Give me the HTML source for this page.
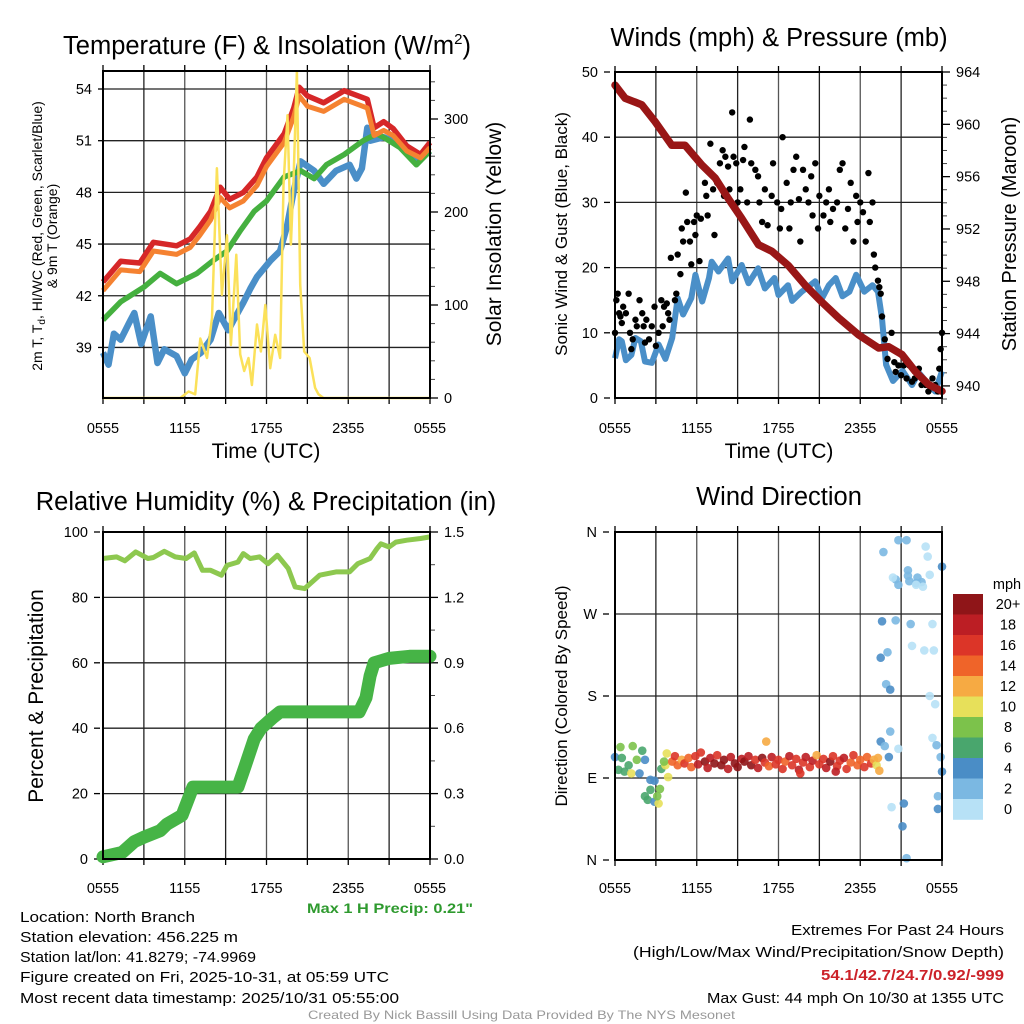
<!DOCTYPE html>
<html><head><meta charset="utf-8"><title>Mesonet station meteogram</title>
<style>
html,body{margin:0;padding:0;background:#fff;}
svg{display:block;font-family:"Liberation Sans",sans-serif;}
</style></head>
<body>
<svg id="chart" width="1024" height="1024" viewBox="0 0 1024 1024" xmlns="http://www.w3.org/2000/svg">
<rect x="0" y="0" width="1024" height="1024" fill="#fff"/>
<!-- titles -->
<text x="267" y="54" font-size="25.5" text-anchor="middle">Temperature (F) &amp; Insolation (W/m<tspan font-size="15" dy="-10">2</tspan><tspan dy="10">)</tspan></text>
<text x="779" y="46" font-size="25.5" text-anchor="middle">Winds (mph) &amp; Pressure (mb)</text>
<text x="266" y="510" font-size="25.5" text-anchor="middle">Relative Humidity (%) &amp; Precipitation (in)</text>
<text x="779" y="505" font-size="25.5" text-anchor="middle">Wind Direction</text>
<!-- axis titles -->
<text x="266" y="458" font-size="21" text-anchor="middle">Time (UTC)</text>
<text x="779" y="458" font-size="21" text-anchor="middle">Time (UTC)</text>
<text transform="translate(42,236) rotate(-90)" font-size="14" text-anchor="middle">2m T, T<tspan font-size="10" dy="3">d</tspan><tspan dy="-3">, HI/WC (Red, Green, Scarlet/Blue)</tspan></text>
<text transform="translate(57,236) rotate(-90)" font-size="14" text-anchor="middle">&amp; 9m T (Orange)</text>
<text transform="translate(501,234) rotate(-90)" font-size="21" text-anchor="middle">Solar Insolation (Yellow)</text>
<text transform="translate(567,234) rotate(-90)" font-size="17" text-anchor="middle">Sonic Wind &amp; Gust (Blue, Black)</text>
<text transform="translate(1016,234) rotate(-90)" font-size="20" text-anchor="middle">Station Pressure (Maroon)</text>
<text transform="translate(43,696) rotate(-90)" font-size="21" text-anchor="middle">Percent &amp; Precipitation</text>
<text transform="translate(567,696) rotate(-90)" font-size="17" text-anchor="middle">Direction (Colored By Speed)</text>
<!-- footer texts -->
<text x="307" y="913" font-size="14" font-weight="bold" fill="#2e9a2e" textLength="166" lengthAdjust="spacingAndGlyphs">Max 1 H Precip: 0.21"</text>
<g font-size="15">
<text x="20" y="922" textLength="175" lengthAdjust="spacingAndGlyphs">Location: North Branch</text>
<text x="20" y="942" textLength="218" lengthAdjust="spacingAndGlyphs">Station elevation: 456.225 m</text>
<text x="20" y="962" textLength="236" lengthAdjust="spacingAndGlyphs">Station lat/lon: 41.8279; -74.9969</text>
<text x="20" y="982" textLength="369" lengthAdjust="spacingAndGlyphs">Figure created on Fri, 2025-10-31, at 05:59 UTC</text>
<text x="20" y="1003" textLength="379" lengthAdjust="spacingAndGlyphs">Most recent data timestamp: 2025/10/31 05:55:00</text>
</g>
<g font-size="15">
<text x="791" y="935" textLength="213" lengthAdjust="spacingAndGlyphs">Extremes For Past 24 Hours</text>
<text x="633" y="957" textLength="371" lengthAdjust="spacingAndGlyphs">(High/Low/Max Wind/Precipitation/Snow Depth)</text>
<text x="821" y="980" font-weight="bold" fill="#cc2229" textLength="183" lengthAdjust="spacingAndGlyphs">54.1/42.7/24.7/0.92/-999</text>
<text x="707" y="1003" textLength="297" lengthAdjust="spacingAndGlyphs">Max Gust: 44 mph On 10/30 at 1355 UTC</text>
</g>
<text x="308" y="1019" font-size="12" fill="#999" textLength="427" lengthAdjust="spacingAndGlyphs">Created By Nick Bassill Using Data Provided By The NYS Mesonet</text>
</svg>
<script>
// ---------- data ----------
const timeTicks = ["0555","1155","1755","2355","0555"];
const tempTicks = [39,42,45,48,51,54];
const solarTicks = [0,100,200,300];
const windTicks = [0,10,20,30,40,50];
const presTicks = [940,944,948,952,956,960,964];
const rhTicks = [0,20,40,60,80,100];
const precipTicks = ["0.0","0.3","0.6","0.9","1.2","1.5"];
const dirTicks = ["N","E","S","W","N"];

const tempHours = [0,1.3,2.7,3.7,5.4,6.4,7.1,7.9,8.6,9.3,10.3,11.3,12,13.3,14,14.4,15,16.2,17.7,19.4,19.9,20.6,21.3,22.3,23.3,24];
const tempRed   = [42.8,44.0,43.9,45.1,44.9,45.3,46.0,46.9,48.3,47.6,48.0,48.9,50.0,51.4,52.9,54.1,53.6,53.2,53.9,53.4,51.75,52.1,51.7,50.7,50.2,50.9];
const tempOrange= [42.3,43.5,43.4,44.6,44.4,44.8,45.5,46.4,47.7,47.1,47.5,48.4,49.5,50.9,52.4,53.6,53.0,52.7,53.4,52.9,51.3,51.6,51.3,50.4,50.0,50.6];
const greenHours = [0,1.3,3.0,4.2,5.4,6.9,8.1,9.1,10.1,11.1,12,13.3,14.5,15.5,16.4,17.7,19.1,20.1,20.8,21.8,23.0,24];
const tempGreen  = [40.6,41.65,42.5,43.3,42.7,43.3,44.05,44.6,45.8,46.9,47.5,48.9,49.25,48.8,49.6,50.2,51.0,51.4,51.1,50.6,49.6,50.4];
const blueHours = [0,0.4,0.8,1.3,1.9,2.3,2.8,3.5,4.0,4.5,5.4,6.0,6.5,7.2,7.9,8.5,9.2,9.6,10.3,10.8,11.3,12.3,13.0,13.5,14.0,14.5,15.5,16.2,17.1,18.1,18.6,19.0,19.4,19.6,20.6,21.8,23.0,24];
const tempBlue  = [38.7,38.0,39.8,39.45,40.4,41.0,39.2,40.8,38.1,38.9,38.5,37.5,38.3,38.7,39.45,41.0,40.0,40.6,41.6,42.4,43.1,44.05,44.6,46.0,48.1,49.8,49.25,48.5,49.25,49.6,48.8,49.4,51.75,51.0,51.2,50.8,49.8,50.4];
const solarHours = [0,5.67,6.28,6.77,7.14,7.63,8.0,8.36,8.73,9.1,9.39,9.78,10.07,10.36,10.68,10.93,11.3,11.59,11.91,12.27,12.64,13.0,13.25,13.54,13.79,13.98,14.23,14.47,14.77,15.16,15.57,15.82,16.18,24];
const solarVals  = [0,0,7,4,64,43,86,247,111,175,57,154,47,29,43,14,79,50,100,32,68,43,229,304,165,233,351,122,50,43,11,4,0,0];

const presHours = [0,0.74,1.96,2.94,4.16,5.14,6.37,7.35,8.33,9.31,10.53,11.51,12.73,13.96,15.19,16.41,17.88,19.35,20.08,21.06,22.04,23.02,24];
const presVals  = [963.0,962.0,961.5,960.2,958.4,958.4,956.9,955.9,954.3,952.8,950.8,950.3,949.2,947.7,946.4,945.2,943.9,942.9,943.0,942.4,941.1,940.1,939.6];
const windHours = [0,0.3,0.5,0.8,1.2,1.5,1.9,2.2,2.7,3.2,3.7,4.2,4.6,5.0,5.6,5.9,6.4,6.9,7.1,7.6,8.3,8.6,9.3,9.8,10.5,11.0,11.7,12.0,12.7,13.0,13.7,14.7,15.2,15.7,16.2,16.7,17.2,17.7,18.3,18.9,19.3,19.6,19.9,20.4,21.1,21.8,22.3,22.8,23.5,24];
const windVals  = [6.1,9.0,8.7,5.8,6.6,9.2,8.7,5.6,5.4,8.2,6.0,9.2,15.3,12.8,15.3,18.9,14.8,18.4,20.9,19.4,21.4,17.9,20.4,17.6,19.9,16.8,18.4,15.8,17.3,14.9,16.3,17.9,15.3,17.3,18.4,15.6,16.3,18.9,16.3,17.3,16.3,12.2,5.1,2.6,4.2,2.0,3.9,2.6,1.0,4.1];
const gustHours = [0,0.1,0.2,0.3,0.4,0.5,0.6,0.8,1.0,1.1,1.3,1.5,1.6,1.8,2.0,2.1,2.3,2.5,2.7,2.9,3.0,3.2,3.4,3.6,3.8,3.9,3.5,2.2,1.2,4.0,4.1,4.4,4.5,4.6,4.8,4.9,5.0,5.2,5.3,5.5,5.6,5.8,5.9,6.0,6.2,6.3,6.6,6.7,6.8,7.0,7.2,7.3,7.5,7.7,7.9,8.0,8.1,8.3,8.4,8.6,8.7,8.9,9.0,9.2,9.4,9.5,9.7,9.9,10.0,10.3,10.5,10.6,10.8,11.0,11.2,11.5,11.6,11.9,12.1,12.2,12.3,12.6,12.8,12.9,13.1,13.3,13.5,13.6,13.8,14.0,14.2,14.4,14.5,14.7,14.9,15.0,15.3,15.5,15.7,15.8,16.0,16.3,16.5,16.7,16.9,17.1,17.3,17.5,17.7,17.8,18.0,18.2,18.4,18.6,18.7,18.9,19.0,19.1,19.3,19.5,19.4,19.6,19.8,20.0,20.3,20.5,20.6,20.8,21.0,21.2,21.4,21.6,21.8,22.0,22.3,22.5,22.8,23.0,23.3,23.5,23.7,23.8,23.9,24.0];
const gustVals  = [10,15,16,13,12.5,11.5,14,13,16,10,9,12,11,15,13,11,12,9,11,14,8,10,15,14,14.5,13,11,8.5,7.5,12,21.5,15,16,22,19,26,24,31.5,27,24,20.5,27,25,28,21,27.5,33,31,28,39,32,25,33,36,38,31,37,35.5,32,43.8,37,36,30,32,36.5,38.5,30,42.7,36,35,34,30,27,32,26.5,31,36,30,26,29,40,33,26,30,35,37,30.5,24,35,32,30,34,28,36,26,31,28,30,32,27,29,30,35,36,26,29,33,24,31,27,30,28.5,24,34.5,27,30,22,20,18,16,17,12.5,9,6,10,5.5,4,5,3.5,5,3,5,2.5,3,4.5,2,2,1,3,2,1,4.5,7.5,10];

const rhHours = [0,1.0,1.6,2.4,3.3,3.7,4.5,5.3,6.1,6.7,7.3,7.9,8.7,9.1,9.9,10.3,10.8,11.5,12.1,12.8,13.6,14.1,14.8,15.9,17.1,18.1,18.7,19.6,20.1,20.4,21.0,21.5,22.3,23.3,24];
const rhVals  = [91.9,92.4,91.2,93.9,91.9,92.2,94.1,92.4,91.9,93.6,88.3,88.3,86.8,89.8,90.8,93.4,91.9,92.4,90.3,92.9,88.8,83.2,82.7,86.8,87.8,87.8,90.3,91.9,94.9,96.4,95.4,96.9,97.5,98.0,98.5];
const precipHours = [0,1.4,2.3,3.0,4.2,4.7,5.8,6.6,9.9,10.4,11.1,11.6,12.5,13.0,18.8,19.3,19.6,19.9,21.0,22.5,24];
const precipVals  = [0.01,0.03,0.08,0.10,0.13,0.16,0.20,0.33,0.33,0.42,0.55,0.60,0.65,0.675,0.675,0.74,0.84,0.90,0.92,0.93,0.93];

const dirHours = [0,0.4,1.3,2.0,0.5,0.25,0.7,1.2,1.6,2.2,1.0,1.8,2.6,2.9,2.6,3.3,2.2,2.4,2.9,3.2,3.1,3.4,3.7,3.9,3.8,3.6,
 4.2,4.4,4.6,4.9,5.1,5.4,5.6,5.9,6.1,6.3,6.6,6.8,7.0,7.3,7.5,7.8,8.0,8.3,8.5,8.8,9.0,9.3,9.5,9.8,10.0,10.3,10.5,10.8,11.0,11.3,11.5,11.8,12.0,12.3,12.5,12.8,13.0,13.3,13.5,13.8,14.0,14.3,14.5,14.8,15.0,15.3,15.5,15.8,16.0,16.3,16.5,16.8,17.0,17.3,17.5,17.8,18.0,18.3,18.5,18.8,19.0,19.2,19.3,19.4,11.1,16.2,13.6,
 19.7,20.8,21.4,22.8,22.95,24,21.5,23.1,21.5,22.2,22.5,22.1,22.6,20.6,20.8,21.6,22.1,20.4,19.6,20.6,21.7,23.3,21.8,22.7,23.4,19.5,20.0,19.9,20.2,23.1,23.5,20.2,19.5,19.8,20.8,20.1,23.3,23.6,23.9,24,23.7,23.7,21.2,20.3,21.1,21.4];
const dirVals = [113,124,125,120,112,99,97,95,110,110,104,95,88,87,77,78,70,66,64,62,70,100,104,91,117,108,
 108,114,104,110,106,112,102,114,105,118,108,101,112,106,115,104,110,100,113,106,102,111,108,114,104,110,101,112,107,103,113,105,110,100,108,114,104,111,99,107,113,102,109,115,105,111,101,108,114,103,109,112,100,107,115,104,110,102,113,106,110,104,112,98,130,97,95,
 338,351,351,344,333,322,318,313,312,310,305,304,300,308,302,306,302,310,262,263,259,259,235,230,230,222,228,193,187,180,171,141,130,125,122,113,134,126,113,97,70,56,62,58,37,2];
const dirSpeeds = [4,8,8,6,6,6,6,10,8,4,6,4,4,4,6,8,6,6,4,10,8,6,10,10,10,8,
 14,16,15,13,16,15,14,17,18,16,20,19,18,20,17,21,20,19,18,21,20,19,21,18,20,17,19,20,16,15,18,17,16,17,14,18,17,16,18,17,18,16,19,13,17,16,18,20,17,16,17,18,16,14,17,15,14,16,15,17,12,11,13,12,12,18,16,
 2,2,2,0,0,4,3,0,2,2,2,2,0,2,2,2,0,0,4,2,2,0,0,0,0,4,2,2,4,0,0,2,4,2,0,4,0,2,2,4,2,4,4,0,4,2];
const speedLabels = ["20+","18","16","14","12","10","8","6","4","2","0"];
const speedColors = ["#b7e1f6","#7bb8e2","#4a8dc6","#49a66d","#7cc24b","#e7e05a","#f6aa43","#ef6429","#dc3528","#bc1e24","#8f1518"];

// ---------- helpers ----------
const NS = "http://www.w3.org/2000/svg";
const svg = document.getElementById("chart");
function mk(tag, attrs, parent){
  const e = document.createElementNS(NS, tag);
  for (const k in attrs) e.setAttribute(k, attrs[k]);
  (parent || svg).appendChild(e);
  return e;
}
function pathFrom(xs, ys, fx, fy){
  let d = "";
  for (let i=0;i<xs.length;i++) d += (i?"L":"M") + fx(xs[i]).toFixed(1) + "," + fy(ys[i]).toFixed(1);
  return d;
}

// axis scales
const X1 = t => 103 + t*327/24;
const X2 = t => 615 + t*327/24;
const yTemp = v => 89 + (54 - v)*17.23;
const ySol = w => 398 - w*0.93;
const yWind = v => 398 - v*6.52;
const yPres = p => 72 + (964 - p)*13.08;
const yRH = v => 859 - v*3.27;
const yPr = p => 859 - p/1.5*327;
const yDir = d => 860 - d*328/360;

function frame(x0,y0,x1,y1,name,xLblY){
  const g = mk("g",{});
  
  
  for (let i=1;i<8;i++){
    const x = x0 + i*(x1-x0)/8;
    const l = mk("line",{x1:x,y1:y0,x2:x,y2:y1,stroke:(i%2?"#222":"#555"),"stroke-width":1.3},g);
    
    
  }
  for (let i=0;i<=8;i++){
    const x = x0 + i*(x1-x0)/8;
    const tk = mk("line",{x1:x,y1:y1,x2:x,y2:y1+6,stroke:"#000","stroke-width":1.3},g);
    
    
    const tt = mk("line",{x1:x,y1:y0-6,x2:x,y2:y0,stroke:"#000","stroke-width":1.3},g);
    
    
  }
  timeTicks.forEach((s,i)=>{
    const t = mk("text",{x:x0+i*(x1-x0)/4,y:xLblY,"font-size":14.5,"text-anchor":"middle"},g);
    t.textContent = s;
    
    
  });
  return g;
}
function hgrid(g,x0,x1,y){
  const l = mk("line",{x1:x0,y1:y,x2:x1,y2:y,stroke:"#222","stroke-width":1.3},g);
  
  
}
function border(x0,y0,x1,y1){
  const r = mk("rect",{x:x0,y:y0,width:x1-x0,height:y1-y0,fill:"none",stroke:"#000","stroke-width":2});
  
  
}
function leftLabel(g,x,y,txt){
  const t = mk("text",{x:x,y:y+5,"font-size":14.5,"text-anchor":"end"},g);
  t.textContent = txt;
  
  
  const tk = mk("line",{x1:x+6,y1:y,x2:x+12,y2:y,stroke:"#000","stroke-width":1.3},g);
  
  
}
function rightLabel(g,xr,y,txt){
  const t = mk("text",{x:xr+14,y:y+5,"font-size":14.5},g);
  t.textContent = txt;
  
  
  const tk = mk("line",{x1:xr,y1:y,x2:xr+8,y2:y,stroke:"#000","stroke-width":1.3},g);
  
  
}
function minor(g,xr,y){
  const tk = mk("line",{x1:xr,y1:y,x2:xr+5,y2:y,stroke:"#444","stroke-width":1},g);
  
  
}

// ---------- Panel 1: temperature ----------
const g1 = frame(103,71,430,398,"temperature-panel",433);
tempTicks.forEach(v=>{ hgrid(g1,103,430,yTemp(v)); leftLabel(g1,92,yTemp(v),String(v)); });
solarTicks.forEach(w=>rightLabel(g1,430,ySol(w),String(w)));
for (let w=20; w<350; w+=20) if (w%100) minor(g1,430,ySol(w));
const pBlue = mk("path",{d:pathFrom(blueHours,tempBlue,X1,yTemp),fill:"none",stroke:"#4a8fc8","stroke-width":6.5,"stroke-linejoin":"round"});


const pGreen = mk("path",{d:pathFrom(greenHours,tempGreen,X1,yTemp),fill:"none",stroke:"#45b03f","stroke-width":5.5,"stroke-linejoin":"round"});


const pRed = mk("path",{d:pathFrom(tempHours,tempRed,X1,yTemp),fill:"none",stroke:"#d62728","stroke-width":5.5,"stroke-linejoin":"round"});


const pOr = mk("path",{d:pathFrom(tempHours,tempOrange,X1,yTemp),fill:"none",stroke:"#f58231","stroke-width":5,"stroke-linejoin":"round"});


const pSol = mk("path",{d:pathFrom(solarHours,solarVals,X1,ySol),fill:"none",stroke:"#fbe15a","stroke-width":2.5,"stroke-linejoin":"round"});


border(103,71,430,398);

// ---------- Panel 2: winds ----------
const g2 = frame(615,72,942,398,"winds-panel",433);
windTicks.forEach(v=>{ hgrid(g2,615,942,yWind(v)); leftLabel(g2,598,yWind(v),String(v)); });
presTicks.forEach(p=>rightLabel(g2,942,yPres(p),String(p)));
for (let p=939; p<964; p++) if (p%4) minor(g2,942,yPres(p));
const pW = mk("path",{d:pathFrom(windHours,windVals,X2,yWind),fill:"none",stroke:"#4a8fc8","stroke-width":6,"stroke-linejoin":"round"});


const gG = mk("g",{});


gustHours.forEach((h,i)=>{
  const c = mk("circle",{cx:X2(h),cy:yWind(gustVals[i]),r:3.2,fill:"#000"},gG);
  
  
});
const pP = mk("path",{d:pathFrom(presHours,presVals,X2,yPres),fill:"none",stroke:"#991616","stroke-width":7.5,"stroke-linejoin":"round","stroke-linecap":"round"});


border(615,72,942,398);

// ---------- Panel 3: humidity ----------
const g3 = frame(103,532,430,859,"humidity-panel",893);
rhTicks.forEach((v,i)=>{ hgrid(g3,103,430,yRH(v)); leftLabel(g3,88,yRH(v),String(v)); rightLabel(g3,430,yRH(v),precipTicks[i]); });
for (let v=10; v<100; v+=20) minor(g3,430,yRH(v));
const pRH = mk("path",{d:pathFrom(rhHours,rhVals,X1,yRH),fill:"none",stroke:"#8dc84f","stroke-width":5,"stroke-linejoin":"round"});


const pPr = mk("path",{d:pathFrom(precipHours,precipVals,X1,yPr),fill:"none",stroke:"#46b446","stroke-width":13,"stroke-linejoin":"round","stroke-linecap":"round"});


border(103,532,430,859);

// ---------- Panel 4: wind direction ----------
const g4 = frame(615,532,942,860,"wind-direction-panel",893);
dirTicks.forEach((s,i)=>{ const y = yDir(i*90); hgrid(g4,615,942,y); leftLabel(g4,597,y,s); });
const gD = mk("g",{"fill-opacity":0.9});


dirHours.forEach((h,i)=>{
  const idx = Math.min(10, Math.floor(dirSpeeds[i]/2));
  const c = mk("circle",{cx:X2(h),cy:yDir(dirVals[i]),r:4.3,fill:speedColors[idx]},gD);
  
  
});
border(615,532,942,860);

// legend
const gL = mk("g",{});


const lt = mk("text",{x:1007,y:589,"font-size":14.5,"text-anchor":"middle"},gL);
lt.textContent = "mph";


speedLabels.forEach((s,i)=>{
  const y = 594 + i*20.5;
  const r = mk("rect",{x:953,y:y,width:30,height:20.8,fill:speedColors[10-i]},gL);
  
  
  const t = mk("text",{x:1008,y:y+15,"font-size":14.5,"text-anchor":"middle"},gL);
  t.textContent = s;
  
  
});
</script>
</body></html>
